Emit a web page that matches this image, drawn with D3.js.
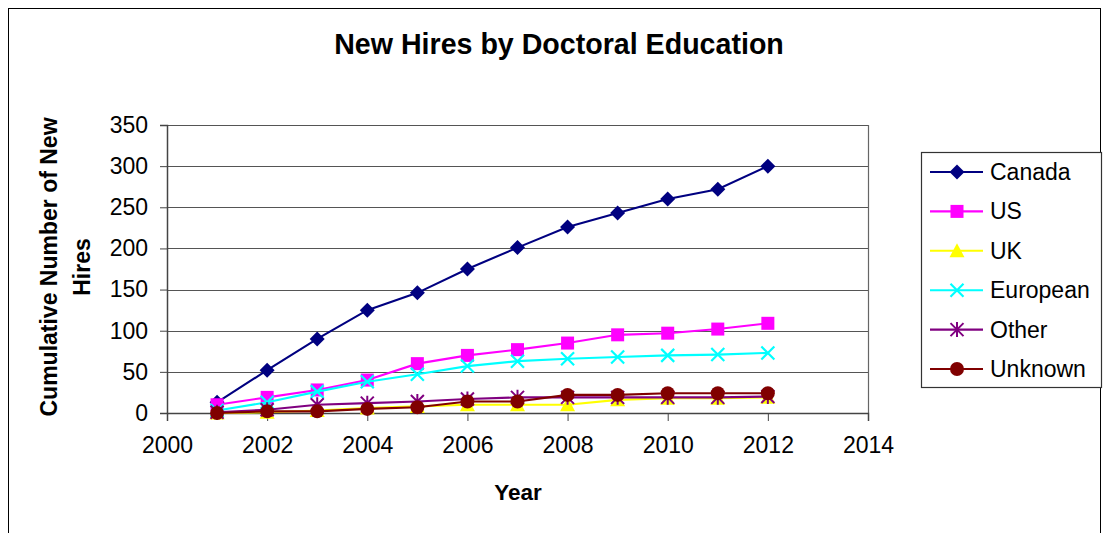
<!DOCTYPE html>
<html>
<head>
<meta charset="utf-8">
<script src="https://cdn.jsdelivr.net/npm/d3@7/dist/d3.min.js"></script>
<style>
  html, body { margin: 0; padding: 0; background: #fff; }
  svg { display: block; font-family: "Liberation Sans", Arial, sans-serif; }
</style>
</head>
<body>
<svg id="chart" width="1103" height="533"></svg>
<script>
// Cumulative new hires per year, grouped by where the doctorate was earned
const years    = [2001, 2002, 2003, 2004, 2005, 2006, 2007, 2008, 2009, 2010, 2011, 2012];
const canada   = [13, 52, 90, 125, 146, 175, 201, 226, 243, 260, 272, 300];
const us       = [10, 19, 28, 40, 60, 70, 77, 85, 95, 97, 102, 109];
const uk       = [0, 1, 3, 6, 8, 10, 10, 10, 16, 18, 18, 19];
const european = [3, 13, 26, 38, 47, 57, 63, 66, 68, 70, 71, 73];
const other    = [1, 4, 10, 12, 14, 17, 19, 19, 19, 19, 19, 20];
const unknown  = [0, 2, 2, 5, 7, 14, 14, 22, 22, 24, 24, 24];

const seriesNames = ["Canada", "US", "UK", "European", "Other", "Unknown"];
const xTicks = [2000, 2002, 2004, 2006, 2008, 2010, 2012, 2014];
const yTicks = [0, 50, 100, 150, 200, 250, 300, 350];

const series = [
  { name: "Canada",   values: canada,   color: "#000080", marker: "diamond" },
  { name: "US",       values: us,       color: "#FF00FF", marker: "square" },
  { name: "UK",       values: uk,       color: "#FFFF00", marker: "triangle" },
  { name: "European", values: european, color: "#00FFFF", marker: "x" },
  { name: "Other",    values: other,    color: "#800080", marker: "star" },
  { name: "Unknown",  values: unknown,  color: "#800000", marker: "circle" }
];

const svg = d3.select("#chart");

// outer chart frame
svg.append("rect")
  .attr("x", 8.5).attr("y", 8.5)
  .attr("width", 1092).attr("height", 540)
  .attr("fill", "#fff").attr("stroke", "#000").attr("stroke-width", 1);

const plot = { left: 167, right: 868, top: 125, bottom: 413 };

const x = d3.scaleLinear().domain([2000, 2014]).range([plot.left, plot.right]);
const y = d3.scaleLinear().domain([0, 350]).range([plot.bottom, plot.top]);

// title
svg.append("text")
  .attr("x", 559).attr("y", 54)
  .attr("text-anchor", "middle")
  .attr("font-size", 28.6).attr("font-weight", "bold")
  .text("New Hires by Doctoral Education");

// horizontal gridlines
svg.append("g")
  .selectAll("line")
  .data(yTicks.filter(d => d > 0))
  .join("line")
  .attr("x1", plot.left).attr("x2", plot.right)
  .attr("y1", d => Math.round(y(d)) + 0.5).attr("y2", d => Math.round(y(d)) + 0.5)
  .attr("stroke", "#555").attr("stroke-width", 1.2);

// right edge of plot area
svg.append("line")
  .attr("x1", plot.right + 0.5).attr("x2", plot.right + 0.5)
  .attr("y1", plot.top).attr("y2", plot.bottom)
  .attr("stroke", "#666").attr("stroke-width", 1.2);

// y axis
const yAxis = d3.axisLeft(y).tickValues(yTicks).tickSize(7).tickPadding(12).tickFormat(d3.format("d"));
const gy = svg.append("g").attr("transform", `translate(${plot.left},0)`).call(yAxis);
gy.select(".domain").attr("stroke", "#444").attr("stroke-width", 1.5);
gy.selectAll(".tick line").attr("stroke", "#444");
gy.selectAll(".tick text")
  .attr("font-family", "Liberation Sans, Arial, sans-serif")
  .attr("font-size", 23).attr("fill", "#000");

// x axis
const xAxis = d3.axisBottom(x).tickValues(xTicks).tickSize(8).tickPadding(16).tickFormat(d3.format("d"));
const gx = svg.append("g").attr("transform", `translate(0,${plot.bottom})`).call(xAxis);
gx.select(".domain").attr("stroke", "#444").attr("stroke-width", 1.5);
gx.selectAll(".tick line").attr("stroke", "#444");
gx.selectAll(".tick text")
  .attr("font-family", "Liberation Sans, Arial, sans-serif")
  .attr("font-size", 23).attr("fill", "#000");

// axis titles
svg.append("text")
  .attr("x", 518).attr("y", 500)
  .attr("text-anchor", "middle")
  .attr("font-size", 22.5).attr("font-weight", "bold")
  .text("Year");

const yTitle = svg.append("text")
  .attr("transform", "translate(0,267) rotate(-90)")
  .attr("text-anchor", "middle")
  .attr("font-size", 23).attr("font-weight", "bold");
yTitle.append("tspan").attr("x", 0).attr("y", 57).text("Cumulative Number of New");
yTitle.append("tspan").attr("x", 0).attr("y", 90).text("Hires");

// marker shapes centered on (0,0)
function drawMarker(g, type, color) {
  const s = 6.5;
  if (type === "diamond") {
    g.append("path").attr("d", `M0,${-s - 1}L${s + 1},0L0,${s + 1}L${-s - 1},0Z`).attr("fill", color);
  } else if (type === "square") {
    g.append("rect").attr("x", -s).attr("y", -s).attr("width", 2 * s).attr("height", 2 * s).attr("fill", color);
  } else if (type === "triangle") {
    g.append("path").attr("d", `M0,${-s - 1}L${s + 1},${s}L${-s - 1},${s}Z`).attr("fill", color);
  } else if (type === "x") {
    g.append("path").attr("d", `M${-s},${-s}L${s},${s}M${s},${-s}L${-s},${s}`)
      .attr("stroke", color).attr("stroke-width", 2.2).attr("fill", "none");
  } else if (type === "star") {
    g.append("path").attr("d", `M${-s},${-s}L${s},${s}M${s},${-s}L${-s},${s}M0,${-s - 1}L0,${s + 1}`)
      .attr("stroke", color).attr("stroke-width", 2).attr("fill", "none");
  } else if (type === "circle") {
    g.append("circle").attr("r", s + 0.5).attr("fill", color);
  }
}

const line = d3.line().x((d, i) => x(years[i])).y(d => y(d));

// series lines and markers, drawn in legend order
series.forEach(s => {
  const g = svg.append("g");
  g.append("path")
    .attr("d", line(s.values))
    .attr("fill", "none")
    .attr("stroke", s.color)
    .attr("stroke-width", 2.1);
  s.values.forEach((v, i) => {
    const m = g.append("g").attr("transform", `translate(${x(years[i])},${y(v)})`);
    drawMarker(m, s.marker, s.color);
  });
});

// legend
const legend = svg.append("g");
legend.append("rect")
  .attr("x", 921.5).attr("y", 152.5)
  .attr("width", 180).attr("height", 235)
  .attr("fill", "#fff").attr("stroke", "#333").attr("stroke-width", 1.2);

const legendY = d3.scalePoint().domain(seriesNames).range([172, 369]);
series.forEach(s => {
  const cy = legendY(s.name);
  const row = legend.append("g");
  row.append("line")
    .attr("x1", 930).attr("x2", 983).attr("y1", cy).attr("y2", cy)
    .attr("stroke", s.color).attr("stroke-width", 2.1);
  const m = row.append("g").attr("transform", `translate(957,${cy})`);
  drawMarker(m, s.marker, s.color);
  row.append("text")
    .attr("x", 990).attr("y", cy + 8)
    .attr("font-size", 23)
    .text(s.name);
});
</script>
</body>
</html>
